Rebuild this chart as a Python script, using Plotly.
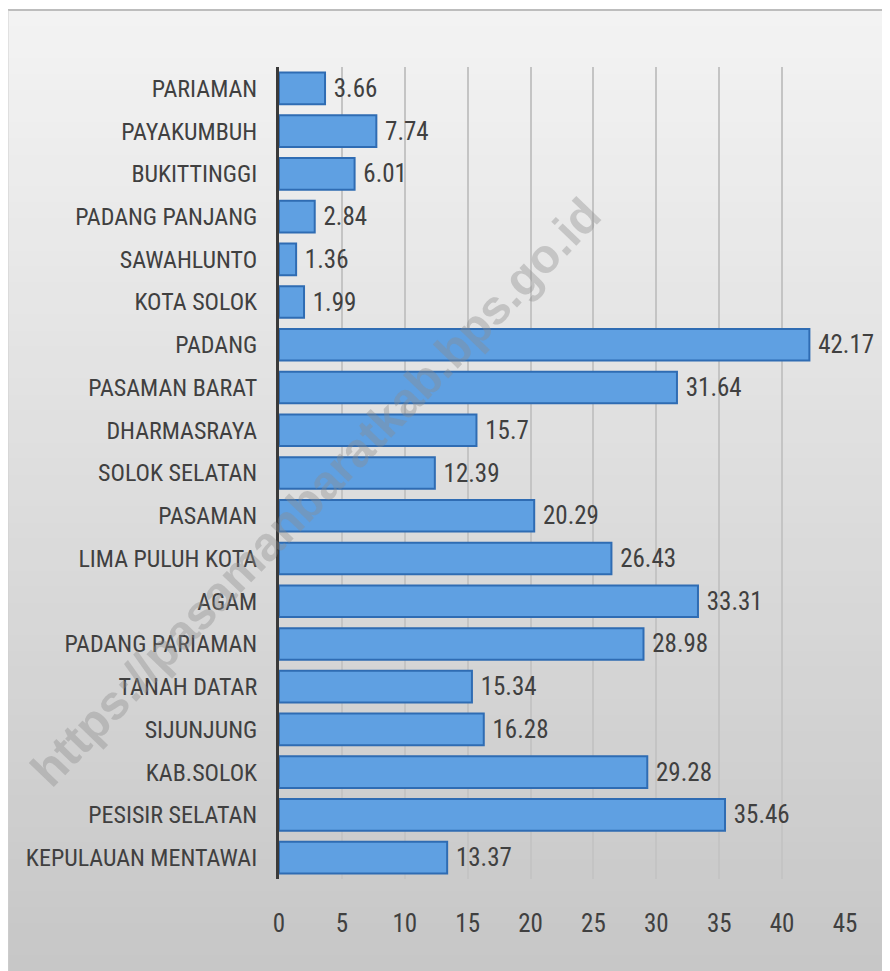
import plotly.graph_objects as go

categories = ["PARIAMAN", "PAYAKUMBUH", "BUKITTINGGI", "PADANG PANJANG", "SAWAHLUNTO",
              "KOTA SOLOK", "PADANG", "PASAMAN BARAT", "DHARMASRAYA", "SOLOK SELATAN",
              "PASAMAN", "LIMA PULUH KOTA", "AGAM", "PADANG PARIAMAN", "TANAH DATAR",
              "SIJUNJUNG", "KAB.SOLOK", "PESISIR SELATAN", "KEPULAUAN MENTAWAI"]
values = [3.66, 7.74, 6.01, 2.84, 1.36, 1.99, 42.17, 31.64, 15.7, 12.39,
          20.29, 26.43, 33.31, 28.98, 15.34, 16.28, 29.28, 35.46, 13.37]
x_ticks = [0, 5, 10, 15, 20, 25, 30, 35, 40, 45]
watermark = "https://pasamanbaratkab.bps.go.id"

OFF = 8  # browser body margin
W, H = 890 - OFF, 971 - OFF
L, R, T, B = 279 - OFF, 45, 67 - OFF, 92
PW, PH = W - L - R, H - T - B

def px(x):  # reference-page pixel -> paper
    return (x - OFF - L) / PW

def py(y):
    return 1 - (y - OFF - T) / PH

FONT = "Roboto Condensed, Liberation Sans Narrow, Arial Narrow, sans-serif"

fig = go.Figure(go.Bar(
    y=categories, x=values, orientation="h",
    marker=dict(color="#5fa0e2", line=dict(color="#2f6cb3", width=2)),
    text=[" " + str(v) for v in values], textposition="outside",
    textfont=dict(size=25, color="#404040", family=FONT),
    cliponaxis=False,
))

shapes = []
x0, x1, y0, y1 = 8, 890, 10, 971
n = 60
c_top, c_bot = (243, 243, 243), (199, 199, 199)
for i in range(n):
    f = i / (n - 1)
    c = tuple(round(c_top[k] + (c_bot[k] - c_top[k]) * f) for k in range(3))
    ya = y0 + (y1 - y0) * i / n
    yb = y0 + (y1 - y0) * (i + 1) / n + 1
    shapes.append(dict(type="rect", xref="paper", yref="paper",
                       x0=px(x0), x1=px(x1), y0=py(ya), y1=py(yb),
                       fillcolor="rgb(%d,%d,%d)" % c, line=dict(width=0), layer="below"))
shapes.append(dict(type="line", xref="paper", yref="paper", x0=px(x0), x1=px(x1),
                   y0=py(y0), y1=py(y0), line=dict(color="#bdbdbd", width=2), layer="below"))
shapes.append(dict(type="line", xref="paper", yref="paper", x0=px(x0), x1=px(x0),
                   y0=py(y0), y1=py(y1), line=dict(color="#d0d0d0", width=1), layer="below"))

fig.update_layout(
    width=W, height=H,
    margin=dict(l=L, r=R, t=T, b=B, autoexpand=False),
    paper_bgcolor="white", plot_bgcolor="rgba(0,0,0,0)",
    showlegend=False, bargap=0.26,
    shapes=shapes,
    font=dict(family=FONT, color="#404040"),
    xaxis=dict(range=[0, 45], tickvals=x_ticks, showgrid=True, gridcolor="#c4c4c4",
               gridwidth=2, zeroline=False, showline=False, automargin=False,
               tickfont=dict(size=25, color="#404040", family=FONT),
               ticks="outside", ticklen=0, ticklabelstandoff=22),
    yaxis=dict(categoryorder="array", categoryarray=categories[::-1],
               showgrid=False, zeroline=False, showline=True, linecolor="#3a3a3a",
               linewidth=3, automargin=False,
               tickfont=dict(size=24, color="#404040", family=FONT),
               ticks="outside", ticklen=0, ticklabelstandoff=14),
    annotations=[dict(text="<b>%s</b>" % watermark, xref="paper", yref="paper",
                      x=px(315), y=py(492), xanchor="center", yanchor="middle",
                      showarrow=False, textangle=-46,
                      font=dict(size=48, color="rgba(140,140,140,0.38)",
                                family="Liberation Sans, Arial, sans-serif"))],
)

fig.write_html("out.html")
